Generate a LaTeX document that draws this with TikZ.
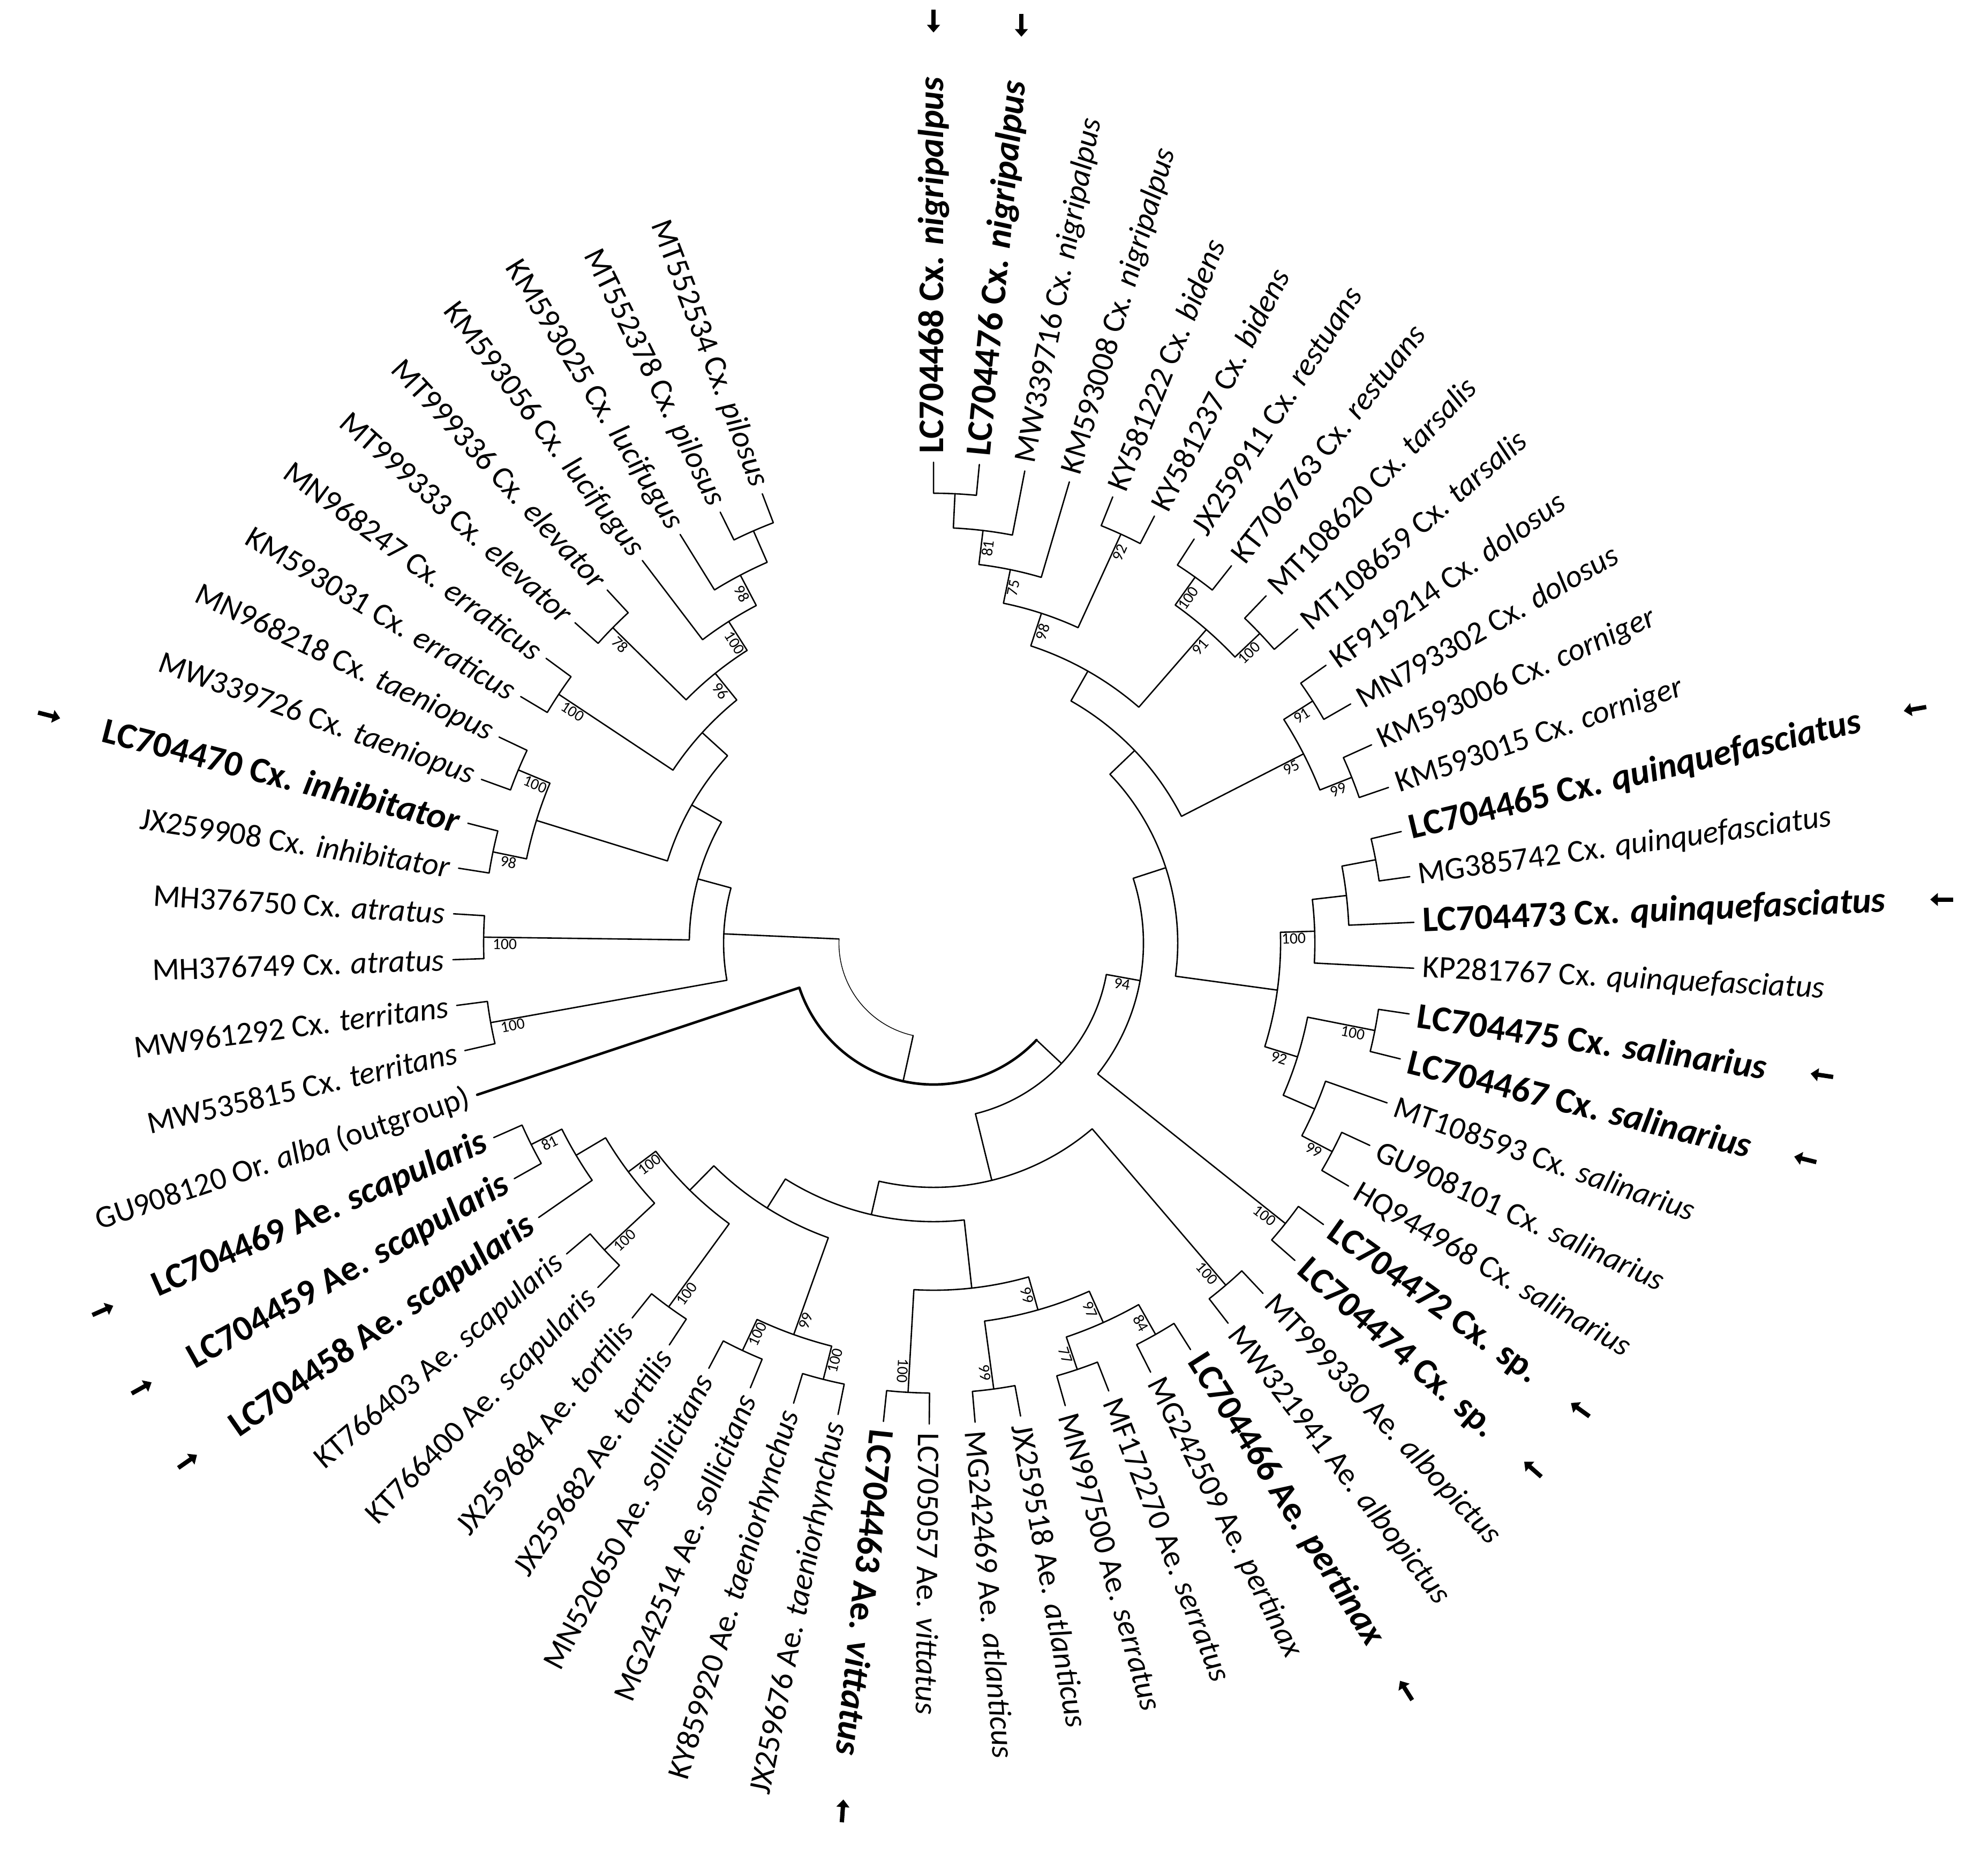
\documentclass[tikz,border=0pt]{standalone}
\usepackage{fontspec}
\setmainfont{Carlito}
\usetikzlibrary{arrows.meta}
\tikzset{
  br/.style={line width=1.1pt, line cap=round, line join=round},
  thickbr/.style={line width=2pt},
  thinbr/.style={line width=0.6pt},
  leaf/.style={inner sep=0pt, font=\fontsize{25}{30}\selectfont},
  bleaf/.style={inner sep=0pt, font=\fontsize{28.5}{33}\selectfont\bfseries},
  boot/.style={inner sep=1pt, font=\fontsize{12.5}{14}\selectfont},
  arr/.style={line width=3.4pt, -{Triangle[length=6pt,width=10pt]}}
}
\newcommand\setnode[3]{%
  \expandafter\xdef\csname na#1\endcsname{#2}%
  \expandafter\xdef\csname nr#1\endcsname{#3}%
  \coordinate (#1) at (#2:#3pt);}
\newcommand\lf[2]{\pgfmathsetmacro\tmpa{90-(#2-1)*5.47}\setnode{#1}{\tmpa}{379.3}}
\newcommand\nd[4]{\edef\tmpx{\csname na#2\endcsname}\edef\tmpy{\csname na#3\endcsname}%
  \pgfmathsetmacro\tmpa{((\tmpx)+(\tmpy))/2}\pgfmathsetmacro\tmpr{381.9-27.04*#4}\setnode{#1}{\tmpa}{\tmpr}}
\newcommand\ndr[4]{\edef\tmpx{\csname na#2\endcsname}\edef\tmpy{\csname na#3\endcsname}%
  \pgfmathsetmacro\tmpa{((\tmpx)+(\tmpy))/2}\setnode{#1}{\tmpa}{#4}}
% elbow connector parent -> child : arc at parent radius, then radial line
\newcommand\ed[3][]{\edef\EdA{\csname na#2\endcsname}\edef\EdR{\csname nr#2\endcsname}\edef\EdC{\csname na#3\endcsname}%
  \draw[br,#1] (\EdA:\EdR pt) arc[start angle=\EdA,end angle=\EdC,radius=\EdR pt] -- (#3);}
% same, with a separate style for the arc part only
\newcommand\edx[3]{\edef\EdA{\csname na#2\endcsname}\edef\EdR{\csname nr#2\endcsname}\edef\EdC{\csname na#3\endcsname}%
  \draw[br,#1] (\EdA:\EdR pt) arc[start angle=\EdA,end angle=\EdC,radius=\EdR pt];
  \draw[br] (\EdC:\EdR pt) -- (#3);}
\newcommand\bsr[2]{\edef\EdA{\csname na#1\endcsname}\edef\EdQ{\csname nr#1\endcsname}\pgfmathsetmacro\EdR{\EdQ-6}%
  \node[boot,rotate=\EdA,anchor=north east] (bs#1) at (\EdA:\EdR pt) {#2};}
\newcommand\bsl[2]{\edef\EdA{\csname na#1\endcsname}\edef\EdQ{\csname nr#1\endcsname}\pgfmathsetmacro\EdR{\EdQ-6}\pgfmathsetmacro\EdT{\EdA+180}%
  \node[boot,rotate=\EdT,anchor=north west] (bs#1) at (\EdA:\EdR pt) {#2};}
\newcommand\lr[3][leaf]{\edef\EdA{\csname na#2\endcsname}\node[#1,rotate=\EdA,anchor=west] (t#2) at (\EdA:386pt) {#3};}
\newcommand\lL[3][leaf]{\edef\EdA{\csname na#2\endcsname}\pgfmathsetmacro\EdT{\EdA+180}\node[#1,rotate=\EdT,anchor=east] (t#2) at (\EdA:386pt) {#3};}
% marker arrow beyond the outer end of a label: leaf, anchor of far end, direction
\newcommand\arw[3]{\edef\EdA{\csname na#1\endcsname}%
  \coordinate (a#1) at ([shift={(\EdA:44pt)}]t#1.#2);
  \draw[arr] ([shift={(#3+180:9pt)}]a#1) -- ([shift={(#3:9pt)}]a#1);}
\begin{document}
\begin{tikzpicture}
\useasboundingbox (-736.3pt,-723.1pt) rectangle (831.7pt,743.9pt);
\foreach \i in {1,...,63}{\lf{l\i}{\i}}
% upper Culex clade
\nd{N1}{l1}{l2}{1}
\nd{N2}{N1}{l3}{2}
\nd{N3}{N2}{l4}{3}
\nd{N5}{l5}{l6}{1}
\nd{N4}{N3}{N5}{4}
\nd{N8}{l7}{l8}{1}
\nd{N9}{l9}{l10}{1}
\nd{N7}{N8}{N9}{2}
\nd{N6}{N4}{N7}{5}
\nd{N10}{l11}{l12}{1}
\nd{N11}{l13}{l14}{1}
\nd{N12}{N10}{N11}{2}
\nd{N13}{N6}{N12}{6}
\nd{Q3}{l15}{l16}{1}
\nd{Q2}{Q3}{l17}{2}
\nd{Q1}{Q2}{l18}{3}
\nd{S2}{l19}{l20}{1}
\nd{S4}{l22}{l23}{1}
\nd{S3}{l21}{S4}{2}
\nd{S1}{S2}{S3}{3}
\nd{N15}{Q1}{S1}{4}
\nd{N14}{N13}{N15}{7}
\nd{N16}{l24}{l25}{1}
\nd{Y}{N14}{N16}{8}
% Aedes clade
\nd{AL}{l26}{l27}{1}
\nd{V}{l28}{l29}{1}
\nd{U}{l30}{l31}{1}
\nd{T}{V}{U}{2}
\nd{AT}{l32}{l33}{1}
\nd{G}{T}{AT}{3}
\nd{VI}{l34}{l35}{1}
\nd{F}{G}{VI}{4}
\nd{TA}{l36}{l37}{1}
\nd{SO}{l38}{l39}{1}
\nd{I}{TA}{SO}{2}
\nd{TO}{l40}{l41}{1}
\nd{KT}{l42}{l43}{1}
\nd{L81}{l45}{l46}{1}
\nd{K}{l44}{L81}{2}
\nd{J}{KT}{K}{3}
\nd{H}{TO}{J}{4}
\nd{E}{I}{H}{5}
\nd{D}{F}{E}{6}
\nd{C}{AL}{D}{7}
\nd{X}{Y}{C}{9}
\nd{B}{X}{l47}{10}
% left Culex clade
\nd{TE}{l48}{l49}{1}
\nd{AR}{l50}{l51}{1}
\nd{IN}{l52}{l53}{1}
\nd{TN}{l54}{l55}{1}
\nd{R}{IN}{TN}{2}
\nd{ER}{l56}{l57}{1}
\nd{EL}{l58}{l59}{1}
\nd{PI}{l62}{l63}{1}
\nd{L}{l61}{PI}{2}
\nd{M}{l60}{L}{3}
\nd{N}{EL}{M}{4}
\nd{O}{ER}{N}{5}
\nd{P}{R}{O}{6}
\nd{Q}{AR}{P}{7}
\nd{S}{TE}{Q}{8}
\ndr{RT}{S}{B}{74.6}
% edges
\ed{N1}{l1}\ed{N1}{l2}\ed{N2}{N1}\ed{N2}{l3}\ed{N3}{N2}\ed{N3}{l4}
\ed{N5}{l5}\ed{N5}{l6}\ed{N4}{N3}\ed{N4}{N5}
\ed{N8}{l7}\ed{N8}{l8}\ed{N9}{l9}\ed{N9}{l10}\ed{N7}{N8}\ed{N7}{N9}
\ed{N6}{N4}\ed{N6}{N7}
\ed{N10}{l11}\ed{N10}{l12}\ed{N11}{l13}\ed{N11}{l14}\ed{N12}{N10}\ed{N12}{N11}
\ed{N13}{N6}\ed{N13}{N12}
\ed{Q3}{l15}\ed{Q3}{l16}\ed{Q2}{Q3}\ed{Q2}{l17}\ed{Q1}{Q2}\ed{Q1}{l18}
\ed{S2}{l19}\ed{S2}{l20}\ed{S4}{l22}\ed{S4}{l23}\ed{S3}{l21}\ed{S3}{S4}\ed{S1}{S2}\ed{S1}{S3}
\ed{N15}{Q1}\ed{N15}{S1}\ed{N14}{N13}\ed{N14}{N15}
\ed{N16}{l24}\ed{N16}{l25}\ed{Y}{N14}\ed{Y}{N16}
\ed{AL}{l26}\ed{AL}{l27}\ed{V}{l28}\ed{V}{l29}\ed{U}{l30}\ed{U}{l31}\ed{T}{V}\ed{T}{U}
\ed{AT}{l32}\ed{AT}{l33}\ed{G}{T}\ed{G}{AT}\ed{VI}{l34}\ed{VI}{l35}\ed{F}{G}\ed{F}{VI}
\ed{TA}{l36}\ed{TA}{l37}\ed{SO}{l38}\ed{SO}{l39}\ed{I}{TA}\ed{I}{SO}
\ed{TO}{l40}\ed{TO}{l41}\ed{KT}{l42}\ed{KT}{l43}\ed{L81}{l45}\ed{L81}{l46}
\ed{K}{l44}\ed{K}{L81}\ed{J}{KT}\ed{J}{K}\ed{H}{TO}\ed{H}{J}\ed{E}{I}\ed{E}{H}
\ed{D}{F}\ed{D}{E}\ed{C}{AL}\ed{C}{D}\ed{X}{Y}\ed{X}{C}
\edx{thickbr}{B}{X}\ed[thickbr]{B}{l47}
\ed{TE}{l48}\ed{TE}{l49}\ed{AR}{l50}\ed{AR}{l51}\ed{IN}{l52}\ed{IN}{l53}\ed{TN}{l54}\ed{TN}{l55}
\ed{R}{IN}\ed{R}{TN}\ed{ER}{l56}\ed{ER}{l57}\ed{EL}{l58}\ed{EL}{l59}
\ed{PI}{l62}\ed{PI}{l63}\ed{L}{l61}\ed{L}{PI}\ed{M}{l60}\ed{M}{L}
\ed{N}{EL}\ed{N}{M}\ed{O}{ER}\ed{O}{N}\ed{P}{R}\ed{P}{O}\ed{Q}{AR}\ed{Q}{P}
\ed{S}{TE}\ed{S}{Q}
\edx{thinbr}{RT}{S}\edx{thinbr}{RT}{B}
% bootstrap values
\bsr{N2}{81}\bsr{N3}{75}\bsr{N4}{98}\bsr{N5}{92}\bsr{N7}{91}\bsr{N8}{100}\bsr{N9}{100}
\bsr{N10}{91}\bsr{N11}{99}\bsr{N12}{95}\bsr{Y}{94}\bsr{Q1}{100}\bsr{S1}{92}\bsr{S2}{100}
\bsr{S4}{99}\bsr{N16}{100}\bsr{AL}{100}\bsr{G}{99}\bsr{AT}{99}\bsr{T}{97}\bsr{U}{77}\bsr{V}{84}
\bsr{VI}{100}
\bsl{I}{99}\bsl{TA}{100}\bsl{SO}{100}\bsl{TO}{100}\bsl{J}{100}\bsl{KT}{100}\bsl{L81}{81}
\bsl{L}{98}\bsl{M}{100}\bsl{N}{96}\bsl{EL}{78}\bsl{ER}{100}\bsl{TN}{100}\bsl{IN}{98}
\bsl{AR}{100}\bsl{TE}{100}
% leaf labels
\lr[bleaf]{l1}{LC704468 Cx. \textit{nigripalpus}}
\lr[bleaf]{l2}{LC704476 Cx. \textit{nigripalpus}}
\lr{l3}{MW339716 Cx. \textit{nigripalpus}}
\lr{l4}{KM593008 Cx. \textit{nigripalpus}}
\lr{l5}{KY581222 Cx. \textit{bidens}}
\lr{l6}{KY581237 Cx. \textit{bidens}}
\lr{l7}{JX259911 Cx. \textit{restuans}}
\lr{l8}{KT706763 Cx. \textit{restuans}}
\lr{l9}{MT108620 Cx. \textit{tarsalis}}
\lr{l10}{MT108659 Cx. \textit{tarsalis}}
\lr{l11}{KF919214 Cx. \textit{dolosus}}
\lr{l12}{MN793302 Cx. \textit{dolosus}}
\lr{l13}{KM593006 Cx. \textit{corniger}}
\lr{l14}{KM593015 Cx. \textit{corniger}}
\lr[bleaf]{l15}{LC704465 Cx. \textit{quinquefasciatus}}
\lr{l16}{MG385742 Cx. \textit{quinquefasciatus}}
\lr[bleaf]{l17}{LC704473 Cx. \textit{quinquefasciatus}}
\lr{l18}{KP281767 Cx. \textit{quinquefasciatus}}
\lr[bleaf]{l19}{LC704475 Cx. \textit{salinarius}}
\lr[bleaf]{l20}{LC704467 Cx. \textit{salinarius}}
\lr{l21}{MT108593 Cx. \textit{salinarius}}
\lr{l22}{GU908101 Cx. \textit{salinarius}}
\lr{l23}{HQ944968 Cx. \textit{salinarius}}
\lr[bleaf]{l24}{LC704472 Cx. sp.}
\lr[bleaf]{l25}{LC704474 Cx. sp.}
\lr{l26}{MT999330 Ae. \textit{albopictus}}
\lr{l27}{MW321941 Ae. \textit{albopictus}}
\lr[bleaf]{l28}{LC704466 Ae. \textit{pertinax}}
\lr{l29}{MG242509 Ae. \textit{pertinax}}
\lr{l30}{MF172270 Ae. \textit{serratus}}
\lr{l31}{MN997500 Ae. \textit{serratus}}
\lr{l32}{JX259518 Ae. \textit{atlanticus}}
\lr{l33}{MG242469 Ae. \textit{atlanticus}}
\lr{l34}{LC705057 Ae. \textit{vittatus}}
\lr[bleaf]{l35}{LC704463 Ae. \textit{vittatus}}
\lL{l36}{JX259676 Ae. \textit{taeniorhynchus}}
\lL{l37}{KY859920 Ae. \textit{taeniorhynchus}}
\lL{l38}{MG242514 Ae. \textit{sollicitans}}
\lL{l39}{MN520650 Ae. \textit{sollicitans}}
\lL{l40}{JX259682 Ae. \textit{tortilis}}
\lL{l41}{JX259684 Ae. \textit{tortilis}}
\lL{l42}{KT766400 Ae. \textit{scapularis}}
\lL{l43}{KT766403 Ae. \textit{scapularis}}
\lL[bleaf]{l44}{LC704458 Ae. \textit{scapularis}}
\lL[bleaf]{l45}{LC704459 Ae. \textit{scapularis}}
\lL[bleaf]{l46}{LC704469 Ae. \textit{scapularis}}
\lL{l47}{GU908120 Or. \textit{alba} (outgroup)}
\lL{l48}{MW535815 Cx. \textit{territans}}
\lL{l49}{MW961292 Cx. \textit{territans}}
\lL{l50}{MH376749 Cx. \textit{atratus}}
\lL{l51}{MH376750 Cx. \textit{atratus}}
\lL{l52}{JX259908 Cx. \textit{inhibitator}}
\lL[bleaf]{l53}{LC704470 Cx. \textit{inhibitator}}
\lL{l54}{MW339726 Cx. \textit{taeniopus}}
\lL{l55}{MN968218 Cx. \textit{taeniopus}}
\lL{l56}{KM593031 Cx. \textit{erraticus}}
\lL{l57}{MN968247 Cx. \textit{erraticus}}
\lL{l58}{MT999333 Cx. \textit{elevator}}
\lL{l59}{MT999336 Cx. \textit{elevator}}
\lL{l60}{KM593056 Cx. \textit{lucifugus}}
\lL{l61}{KM593025 Cx. \textit{lucifugus}}
\lL{l62}{MT552378 Cx. \textit{pilosus}}
\lL{l63}{MT552534 Cx. \textit{pilosus}}
% arrows marking the new sequences
\arw{l1}{east}{-90}
\arw{l2}{east}{-90}
\arw{l15}{east}{190}
\arw{l17}{east}{180}
\arw{l19}{east}{171.5}
\arw{l20}{east}{166}
\arw{l24}{east}{144.2}
\arw{l25}{east}{138.7}
\arw{l28}{east}{122.3}
\arw{l35}{east}{86}
\arw{l44}{west}{34.8}
\arw{l45}{west}{29.3}
\arw{l46}{west}{23.9}
\arw{l53}{west}{-14.4}
\end{tikzpicture}
\end{document}
